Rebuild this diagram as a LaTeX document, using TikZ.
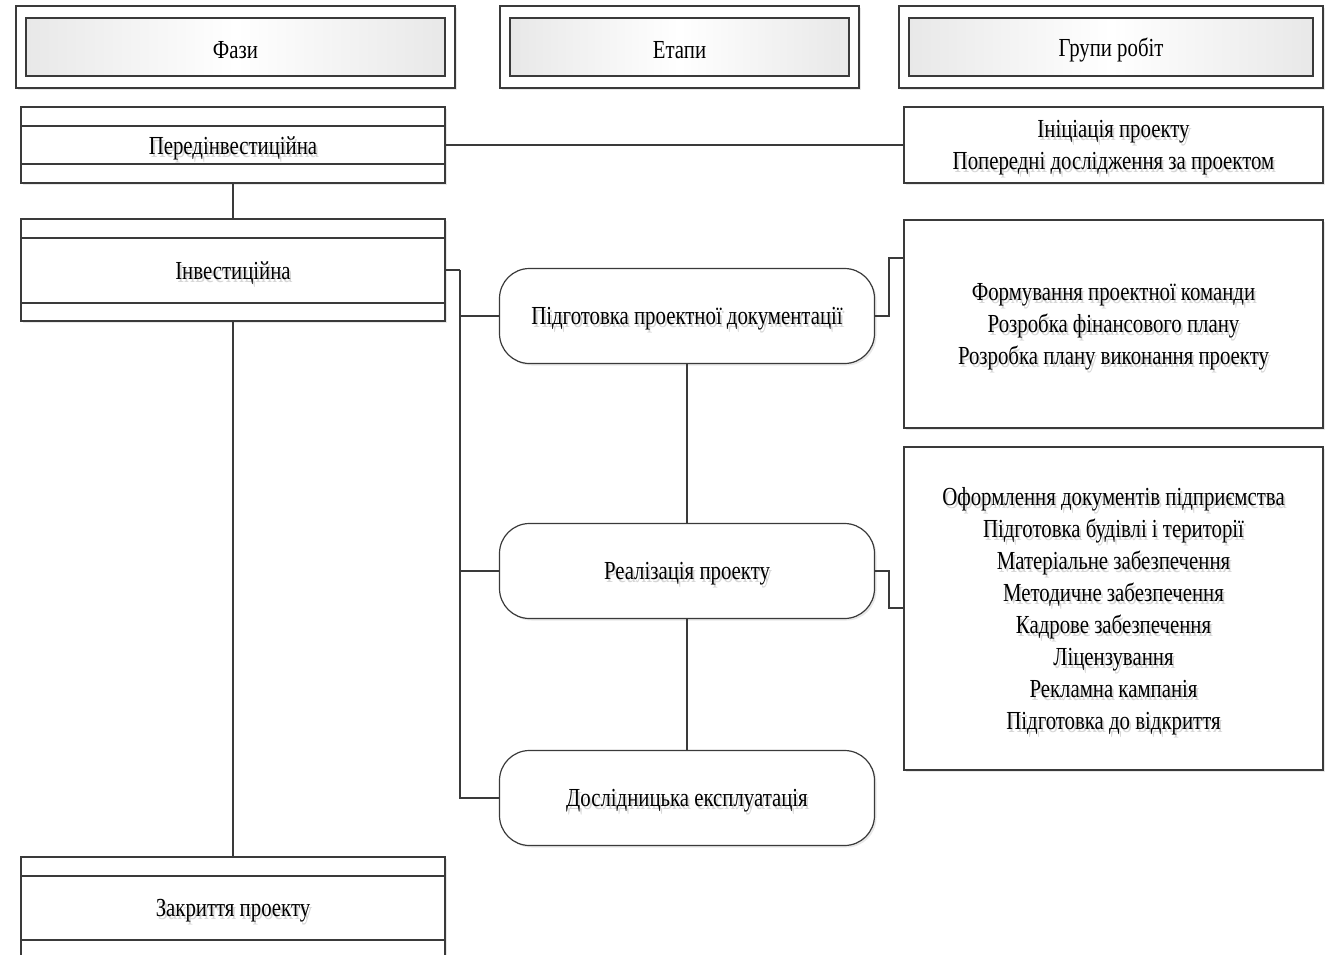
\documentclass[tikz,border=0pt]{standalone}
\usepackage{fontspec}
\setmainfont{Liberation Serif}[FakeStretch=0.8]
\usetikzlibrary{shadows,calc}
\definecolor{ln}{HTML}{3A3A3A}
\tikzset{
  base/.style={draw=ln,line width=1.2pt,fill=white,inner sep=0pt,outer sep=0pt,
    drop shadow={shadow xshift=2pt,shadow yshift=-2pt,fill=black!18}},
  txt/.style={inner sep=0pt,align=center,yshift=-3pt,font=\fontsize{26}{32}\selectfont},
  ghost/.style={txt,text=black!16,xshift=2pt,yshift=-3pt},
  hdrouter/.style={base,minimum height=82pt,line width=1.1pt},
  hdrinner/.style={draw=ln,line width=1.1pt,inner sep=0pt,outer sep=0pt,
    left color=black!9,right color=black!9,middle color=white},
  phasebox/.style={base,minimum width=424pt},
  groupbox/.style={base,minimum width=419pt},
  stagebox/.style={base,rounded corners=30pt,minimum width=375pt,minimum height=95pt},
  conn/.style={draw=ln,line width=2pt}
}
\begin{document}
\begin{tikzpicture}[x=1pt,y=-1pt]
\useasboundingbox (0,0) rectangle (1327,955);
% headers
\node[hdrouter,minimum width=439pt] (h1o) at (235.5,47) {};
\node[hdrinner,minimum width=419pt,minimum height=58pt,label={[txt]center:Фази}] (h1) at (235.5,47) {};
\node[hdrouter,minimum width=359pt] (h2o) at (679.5,47) {};
\node[hdrinner,minimum width=339pt,minimum height=58pt,label={[txt]center:Етапи}] (h2) at (679.5,47) {};
\node[hdrouter,minimum width=424pt] (h3o) at (1111,47) {};
\node[hdrinner,minimum width=404pt,minimum height=58pt,label={[txt]center:Групи робіт}] (h3) at (1111,47) {};
% phases
\node[phasebox,minimum height=76pt,label={[ghost]center:Передінвестиційна},label={[txt]center:Передінвестиційна}] (p1) at (233,145) {};
\draw[ln,line width=1.2pt] ($(p1.north west)+(0,19)$) -- ($(p1.north east)+(0,19)$)
  ($(p1.south west)+(0,-19)$) -- ($(p1.south east)+(0,-19)$);
\node[phasebox,minimum height=102pt,label={[ghost]center:Інвестиційна},label={[txt]center:Інвестиційна}] (p2) at (233,270) {};
\draw[ln,line width=1.2pt] ($(p2.north west)+(0,19)$) -- ($(p2.north east)+(0,19)$)
  ($(p2.south west)+(0,-18)$) -- ($(p2.south east)+(0,-18)$);
\node[phasebox,minimum height=101pt,label={[ghost]center:Закриття проекту},label={[txt]center:Закриття проекту}] (p3) at (233,907.5) {};
\draw[ln,line width=1.2pt] ($(p3.north west)+(0,19)$) -- ($(p3.north east)+(0,19)$)
  ($(p3.south west)+(0,-18)$) -- ($(p3.south east)+(0,-18)$);
% groups
\node[groupbox,minimum height=76pt,
  label={[ghost]center:Ініціація проекту\\Попередні дослідження за проектом},
  label={[txt]center:Ініціація проекту\\Попередні дослідження за проектом}] (g1) at (1113.5,145) {};
\node[groupbox,minimum height=208pt,
  label={[ghost]center:Формування проектної команди\\Розробка фінансового плану\\Розробка плану виконання проекту},
  label={[txt]center:Формування проектної команди\\Розробка фінансового плану\\Розробка плану виконання проекту}] (g2) at (1113.5,324) {};
\node[groupbox,minimum height=323pt,
  label={[ghost]center:Оформлення документів підприємства\\Підготовка будівлі і території\\Матеріальне забезпечення\\Методичне забезпечення\\Кадрове забезпечення\\Ліцензування\\Рекламна кампанія\\Підготовка до відкриття},
  label={[txt]center:Оформлення документів підприємства\\Підготовка будівлі і території\\Матеріальне забезпечення\\Методичне забезпечення\\Кадрове забезпечення\\Ліцензування\\Рекламна кампанія\\Підготовка до відкриття}] (g3) at (1113.5,608.5) {};
% stages
\node[stagebox,label={[ghost]center:Підготовка проектної документації},label={[txt]center:Підготовка проектної документації}] (s1) at (687,316) {};
\node[stagebox,label={[ghost]center:Реалізація проекту},label={[txt]center:Реалізація проекту}] (s2) at (687,571) {};
\node[stagebox,label={[ghost]center:Дослідницька експлуатація},label={[txt]center:Дослідницька експлуатація}] (s3) at (687,798) {};
% connectors
\draw[conn] (p1.east) -- (g1.west);
\draw[conn] (p1.south) -- (p2.north);
\draw[conn] (p2.south) -- (p3.north);
\draw[conn] (p2.east) -- ++(15,0) coordinate (bus);
\draw[conn] (bus) |- (s1.west);
\draw[conn] (bus) |- (s2.west);
\draw[conn] (bus) |- (s3.west);
\draw[conn] (s1.south) -- (s2.north);
\draw[conn] (s2.south) -- (s3.north);
\coordinate (g2in) at ($(g2.north west)+(0,38)$);
\coordinate (g3in) at ($(g3.north west)+(0,161)$);
\draw[conn] (s1.east) -- ++(14,0) |- (g2in);
\draw[conn] (s2.east) -- ++(14,0) |- (g3in);
\end{tikzpicture}
\end{document}
